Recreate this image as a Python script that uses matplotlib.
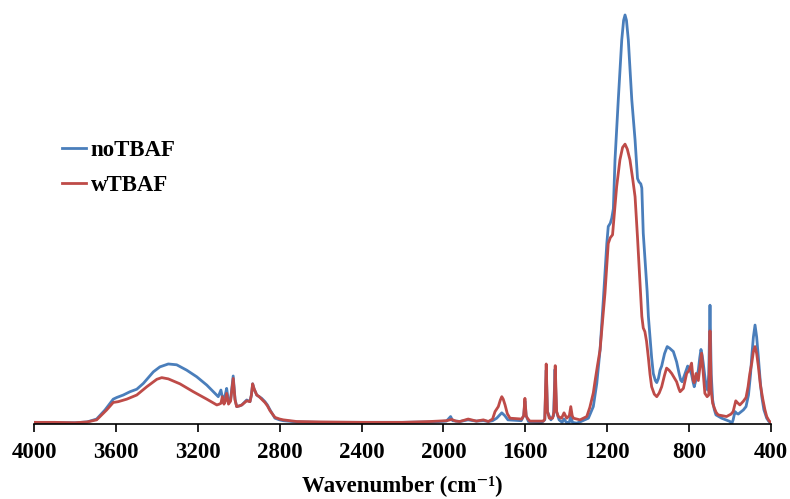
import numpy as np
import matplotlib
matplotlib.use("Agg")
import matplotlib.pyplot as plt

# FTIR spectra, wavenumber (cm-1) vs absorbance (a.u.)
wn_no = [4000, 3900, 3800, 3740, 3694, 3653, 3613, 3596, 3564, 3531, 3498, 3466,
         3417, 3385, 3344, 3303, 3254, 3205, 3156, 3116, 3100, 3087, 3078, 3066,
         3059, 3050, 3040, 3027, 3018, 3010, 2995, 2985, 2961, 2945, 2938, 2932,
         2925, 2912, 2900, 2888, 2872, 2860, 2847, 2823, 2800, 2782, 2717, 2600,
         2400, 2200, 2050, 1985, 1965, 1955, 1920, 1880, 1840, 1805, 1780, 1760,
         1740, 1725, 1715, 1700, 1685, 1620, 1608, 1602, 1596, 1585, 1520, 1505,
         1498, 1492, 1475, 1462, 1455, 1448, 1435, 1420, 1411, 1400, 1385, 1378,
         1370, 1350, 1333, 1310, 1292, 1268, 1251, 1235, 1219, 1202, 1195, 1185,
         1178, 1170, 1162, 1146, 1129, 1120, 1113, 1106, 1097, 1080, 1064, 1052,
         1045, 1036, 1031, 1024, 1016, 1010, 1005, 999, 991, 983, 975, 965, 958,
         950, 942, 934, 920, 907, 895, 877, 861, 848, 841, 834, 820, 807, 800,
         796, 788, 780, 775, 765, 755, 748, 742, 736, 731, 718, 710, 704, 698,
         692, 685, 677, 669, 641, 620, 600, 592, 585, 576, 568, 560, 545, 535,
         522, 510, 500, 494, 486, 478, 470, 462, 452, 445, 435, 421, 410, 400]
ab_no = [0.004, 0.003, 0.003, 0.005, 0.012, 0.034, 0.060, 0.064, 0.070, 0.078, 0.084, 0.098,
         0.126, 0.138, 0.145, 0.143, 0.130, 0.114, 0.094, 0.074, 0.066, 0.082, 0.060, 0.070,
         0.086, 0.054, 0.058, 0.116, 0.060, 0.042, 0.044, 0.046, 0.058, 0.054, 0.070, 0.097,
         0.085, 0.070, 0.066, 0.062, 0.054, 0.046, 0.034, 0.014, 0.010, 0.008, 0.005, 0.004,
         0.004, 0.004, 0.005, 0.007, 0.018, 0.008, 0.006, 0.010, 0.007, 0.008, 0.006, 0.008,
         0.014, 0.022, 0.027, 0.020, 0.010, 0.008, 0.020, 0.055, 0.020, 0.006, 0.004, 0.010,
         0.130, 0.030, 0.010, 0.020, 0.132, 0.030, 0.010, 0.004, 0.012, 0.004, 0.004, 0.020,
         0.004, 0.002, 0.005, 0.010, 0.014, 0.042, 0.098, 0.179, 0.300, 0.436, 0.477, 0.485,
         0.497, 0.520, 0.638, 0.783, 0.928, 0.975, 0.988, 0.975, 0.928, 0.783, 0.686, 0.593,
         0.585, 0.580, 0.570, 0.461, 0.400, 0.352, 0.320, 0.260, 0.211, 0.160, 0.122, 0.105, 0.100,
         0.110, 0.130, 0.140, 0.170, 0.187, 0.183, 0.175, 0.150, 0.120, 0.106, 0.102, 0.122, 0.140, 0.135,
         0.130, 0.120, 0.100, 0.090, 0.110, 0.130, 0.160, 0.180, 0.165, 0.147, 0.094, 0.082, 0.120, 0.287,
         0.120, 0.058, 0.035, 0.022, 0.014, 0.010, 0.006, 0.000, 0.010, 0.030, 0.026, 0.024, 0.030, 0.034,
         0.042, 0.070, 0.120, 0.163, 0.210, 0.239, 0.210, 0.163, 0.100, 0.066, 0.035, 0.014, 0.006, 0.002]

wn_w = [4000, 3900, 3800, 3740, 3694, 3645, 3613, 3588, 3547, 3498, 3449, 3400,
        3376, 3344, 3287, 3222, 3156, 3107, 3095, 3087, 3080, 3072, 3066, 3059,
        3050, 3040, 3027, 3018, 3010, 2995, 2985, 2961, 2945, 2938, 2932, 2925,
        2912, 2900, 2888, 2872, 2860, 2847, 2823, 2800, 2782, 2717, 2600, 2400,
        2200, 2066, 1985, 1960, 1940, 1920, 1879, 1839, 1805, 1781, 1760, 1748,
        1740, 1732, 1722, 1715, 1708, 1699, 1688, 1675, 1618, 1608, 1602, 1596,
        1590, 1578, 1512, 1505, 1498, 1492, 1483, 1467, 1460, 1454, 1447, 1439,
        1423, 1411, 1398, 1385, 1378, 1371, 1365, 1333, 1300, 1285, 1276, 1268,
        1260, 1248, 1235, 1211, 1195, 1185, 1174, 1165, 1154, 1138, 1125, 1113,
        1102, 1089, 1075, 1064, 1052, 1040, 1031, 1024, 1016, 1008, 999, 991,
        983, 970, 958, 946, 934, 920, 910, 898, 885, 861, 850, 844, 828, 812,
        800, 788, 780, 775, 766, 755, 739, 723, 712, 704, 698, 692, 685, 678,
        668, 658, 617, 595, 585, 572, 565, 552, 535, 522, 512, 504, 494, 486,
        478, 470, 462, 452, 440, 430, 421, 410, 400]
ab_w = [0.004, 0.004, 0.003, 0.005, 0.010, 0.034, 0.052, 0.054, 0.060, 0.070, 0.090, 0.108,
        0.112, 0.109, 0.097, 0.078, 0.060, 0.046, 0.048, 0.050, 0.066, 0.048, 0.055, 0.074,
        0.048, 0.055, 0.110, 0.058, 0.042, 0.044, 0.046, 0.056, 0.054, 0.070, 0.097, 0.085,
        0.070, 0.066, 0.060, 0.052, 0.044, 0.032, 0.016, 0.012, 0.010, 0.006, 0.005, 0.004,
        0.004, 0.006, 0.008, 0.011, 0.007, 0.006, 0.012, 0.007, 0.010, 0.006, 0.012, 0.030,
        0.036, 0.042, 0.058, 0.066, 0.060, 0.046, 0.025, 0.014, 0.012, 0.020, 0.062, 0.020,
        0.014, 0.007, 0.007, 0.012, 0.145, 0.030, 0.014, 0.014, 0.030, 0.141, 0.030, 0.018,
        0.014, 0.027, 0.014, 0.020, 0.042, 0.020, 0.014, 0.010, 0.018, 0.040, 0.058, 0.075,
        0.102, 0.140, 0.179, 0.316, 0.436, 0.450, 0.457, 0.510, 0.573, 0.638, 0.668, 0.676,
        0.664, 0.638, 0.590, 0.549, 0.450, 0.340, 0.260, 0.232, 0.223, 0.200, 0.160, 0.120,
        0.090, 0.072, 0.066, 0.075, 0.090, 0.118, 0.135, 0.130, 0.122, 0.102, 0.085, 0.078, 0.086, 0.122,
        0.130, 0.147, 0.105, 0.100, 0.122, 0.105, 0.171, 0.074, 0.066, 0.070, 0.225, 0.080, 0.050, 0.040,
        0.028, 0.022, 0.018, 0.024, 0.030, 0.056, 0.052, 0.046, 0.055, 0.064, 0.090, 0.120, 0.147, 0.175,
        0.187, 0.170, 0.140, 0.095, 0.060, 0.035, 0.018, 0.008, 0.003]

series = ["noTBAF", "wTBAF"]
colors = ["#4a7ebb", "#be4b48"]
xticks = [4000, 3600, 3200, 2800, 2400, 2000, 1600, 1200, 800, 400]

plt.rcParams['font.family'] = ['Liberation Serif', 'DejaVu Serif']
plt.rcParams['font.weight'] = 'bold'

fig = plt.figure(figsize=(7.9, 4.99), dpi=100)
ax = fig.add_axes([34/790, 1-424/499, 737/790, 414/499])

ax.plot(wn_no, ab_no, color=colors[0], lw=2.0, label=series[0])
ax.plot(wn_w, ab_w, color=colors[1], lw=2.0, label=series[1])

ax.set_xlim(4000, 400)
ax.set_ylim(0, 1.0)
ax.set_xticks(xticks)
ax.set_xticklabels([str(t) for t in xticks], fontsize=16.5, fontweight='bold')
ax.set_yticks([])
for s in ['left', 'right', 'top']:
    ax.spines[s].set_visible(False)
ax.spines['bottom'].set_linewidth(1.2)
ax.tick_params(axis='x', direction='out', length=6, width=1.2, pad=7)
ax.set_xlabel('Wavenumber (cm\u207b\u00b9)', fontsize=16.5, fontweight='bold', labelpad=9)

leg = ax.legend(loc='upper left', bbox_to_anchor=(62/790, 1-140/499),
                bbox_transform=fig.transFigure, frameon=False, fontsize=16.5,
                handlelength=1.05, handletextpad=0.2, labelspacing=0.6,
                borderpad=0, borderaxespad=0)
for t in leg.get_texts():
    t.set_fontweight('bold')

fig.savefig('out.png', dpi=100)
